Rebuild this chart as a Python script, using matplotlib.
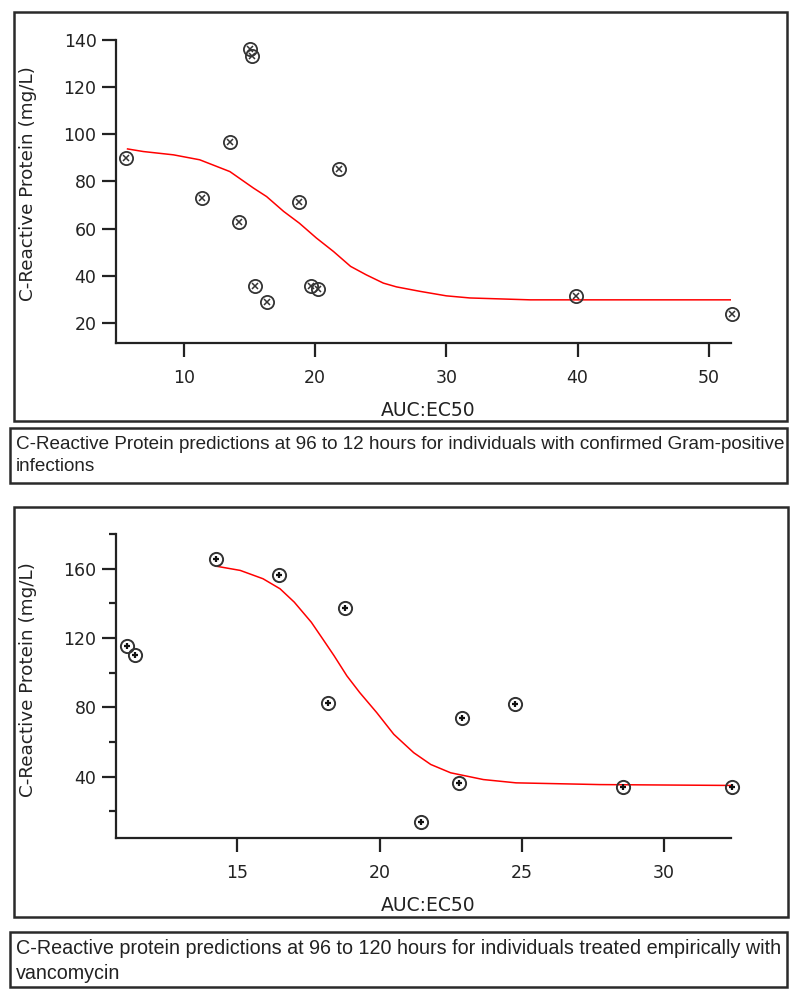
import matplotlib
matplotlib.use("Agg")
import matplotlib.pyplot as plt
from matplotlib.patches import Rectangle
from matplotlib.ticker import FixedLocator

plt.rcParams["font.family"] = ["DejaVu Sans"]

# ---- data: Gram-positive panel ----
gp_auc = [5.6, 11.4, 13.5, 14.2, 15.0, 15.2, 15.4, 16.3, 18.8, 19.7, 20.2, 21.8, 39.9, 51.8]
gp_crp = [90.1, 72.9, 96.9, 63.0, 136.2, 133.3, 35.8, 28.9, 71.2, 35.8, 34.6, 85.3, 31.5, 23.9]
gp_fit_auc = [5.7, 6.9, 9.2, 11.2, 13.5, 15.3, 16.3, 17.6, 18.8, 20.1, 21.4, 22.7,
              23.9, 25.2, 26.2, 28.0, 30.0, 31.8, 36.4, 51.8]
gp_fit_crp = [93.8, 92.7, 91.3, 89.2, 84.2, 77.2, 73.6, 67.3, 62.3, 56.0, 50.3, 44.0,
              40.4, 36.9, 35.3, 33.4, 31.5, 30.6, 29.8, 29.8]

# ---- data: vancomycin panel ----
vc_auc = [11.1, 11.4, 14.25, 16.46, 18.18, 18.79, 21.47, 22.78, 22.9, 24.78, 28.55, 32.4]
vc_crp = [115.6, 110.2, 165.4, 156.3, 82.8, 137.2, 13.7, 36.5, 73.7, 81.8, 34.2, 34.2]
vc_fit_auc = [14.3, 15.1, 15.9, 16.5, 17.0, 17.6, 18.0, 18.4, 18.85, 19.3, 19.9, 20.5,
              21.2, 21.8, 22.5, 23.65, 24.8, 27.75, 32.4]
vc_fit_crp = [161.3, 159.0, 154.2, 148.4, 140.7, 129.1, 119.5, 109.8, 98.2, 88.6, 77.0, 64.5,
              53.9, 47.1, 42.3, 38.4, 36.5, 35.5, 35.0]

captions = [
    "C-Reactive Protein predictions at 96 to 12 hours for individuals with confirmed Gram-positive\ninfections",
    "C-Reactive protein predictions at 96 to 120 hours for individuals treated empirically with\nvancomycin",
]
caption_widths = [769, 759]   # pixel width of the longest caption line

W, H = 800, 994
fig = plt.figure(figsize=(W / 100, H / 100), dpi=100)
ink = "#222222"


def px_rect(x0, y0, x1, y1):
    # pixel box (top-left origin) -> figure fraction
    return [x0 / W, 1 - y1 / H, (x1 - x0) / W, (y1 - y0) / H]


def frame(x0, y0, x1, y1):
    fig.patches.append(Rectangle((x0 / W, 1 - y1 / H), (x1 - x0) / W, (y1 - y0) / H,
                                 transform=fig.transFigure, fill=False,
                                 edgecolor="#2a2a2a", linewidth=1.8))


def style(ax):
    for s in ["top", "right"]:
        ax.spines[s].set_visible(False)
    for s in ["left", "bottom"]:
        ax.spines[s].set_linewidth(1.6)
        ax.spines[s].set_color(ink)
    ax.tick_params(direction="out", length=10, width=1.6, colors=ink, labelsize=12.5)
    ax.tick_params(axis="y", pad=4)
    ax.tick_params(axis="x", pad=9)
    ax.tick_params(which="minor", direction="out", length=5, width=1.6, colors=ink)
    ax.set_xlabel("AUC:EC50", fontsize=13.5, color=ink)
    ax.set_ylabel("C-Reactive Protein (mg/L)", fontsize=13.2, color=ink)


# panel frames and caption boxes
frame(14, 12, 787, 421)
frame(10, 428, 787, 483)
frame(14, 507, 788, 917)
frame(10, 932, 787, 987)

# ---- top panel ----
ax1 = fig.add_axes(px_rect(116, 40, 731, 343))
ax1.plot(gp_fit_auc, gp_fit_crp, color="red", lw=1.1)
ax1.plot(gp_auc, gp_crp, "o", mfc="none", mec="#333333", ms=9.5, mew=1.3, clip_on=False)
ax1.plot(gp_auc, gp_crp, "x", color="#333333", ms=5, mew=1.1, clip_on=False)
ax1.set_xlim(4.82, 51.7)
ax1.set_ylim(11.5, 140)
ax1.set_xticks([10, 20, 30, 40, 50])
ax1.set_yticks([20, 40, 60, 80, 100, 120, 140])
style(ax1)
ax1.yaxis.set_label_coords(-0.128, 0.525)
ax1.xaxis.set_label_coords(0.507, -0.19)

# ---- bottom panel ----
ax2 = fig.add_axes(px_rect(116, 534, 731, 838))
ax2.plot(vc_fit_auc, vc_fit_crp, color="red", lw=1.1)
ax2.plot(vc_auc, vc_crp, "o", mfc="none", mec="#333333", ms=9.5, mew=1.4, clip_on=False)
ax2.plot(vc_auc, vc_crp, "+", color="#111111", ms=4, mew=1.6, clip_on=False)
ax2.set_xlim(10.73, 32.36)
ax2.set_ylim(4.7, 180)
ax2.set_xticks([15, 20, 25, 30])
ax2.set_yticks([40, 80, 120, 160])
ax2.yaxis.set_minor_locator(FixedLocator([20, 60, 100, 140, 180]))
style(ax2)
ax2.yaxis.set_label_coords(-0.128, 0.52)
ax2.xaxis.set_label_coords(0.507, -0.19)

# ---- captions, sized to fill the box width ----
renderer = fig.canvas.get_renderer()
for cap, target, ytop in zip(captions, caption_widths, [436, 939]):
    t = fig.text(16 / W, 1 - ytop / H, cap, fontsize=11, family="Liberation Sans",
                 color=ink, va="top", ha="left", linespacing=1.4)
    w = t.get_window_extent(renderer).width
    t.set_fontsize(11 * target / w)

fig.savefig("out.png", dpi=100)
